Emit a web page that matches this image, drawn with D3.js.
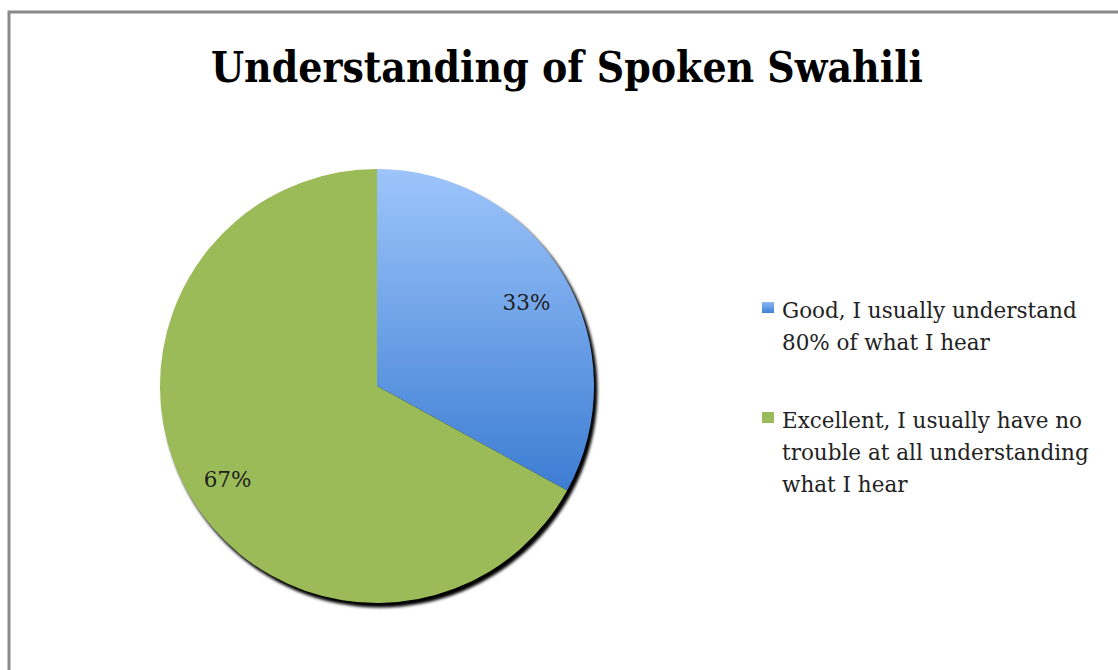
<!DOCTYPE html>
<html><head><meta charset="utf-8">
<script src="https://cdn.jsdelivr.net/npm/d3@7"></script>
<style>
html,body{margin:0;padding:0;background:#fff;}
svg{display:block;}
</style></head>
<body>
<svg id="chart" width="1118" height="670"></svg>
<script>
const title = "Understanding of Spoken Swahili";
const categories = ["Good, I usually understand 80% of what I hear",
  "Excellent, I usually have no trouble at all understanding what I hear"];
const legendLines = [["Good, I usually understand", "80% of what I hear"],
  ["Excellent, I usually have no", "trouble at all understanding", "what I hear"]];
const values = [33, 67];
const labels = ["33%", "67%"];

const svg = d3.select("#chart");
const W = 1118, H = 670;
const cx = 377, cy = 386, R = 217;

const defs = svg.append("defs");
const gBlue = defs.append("linearGradient").attr("id","gBlue")
  .attr("gradientUnits","userSpaceOnUse").attr("x1",0).attr("y1",-R).attr("x2",0).attr("y2",R*0.52);
gBlue.append("stop").attr("offset",0).attr("stop-color","#9dc5fb");
gBlue.append("stop").attr("offset",1).attr("stop-color","#3a7bd2");
const gBlueL = defs.append("linearGradient").attr("id","gBlueL").attr("x1",0).attr("y1",0).attr("x2",0).attr("y2",1);
gBlueL.append("stop").attr("offset",0).attr("stop-color","#8ab8f2");
gBlueL.append("stop").attr("offset",1).attr("stop-color","#3f7fd4");
const sh = defs.append("filter").attr("id","shadow").attr("x","-10%").attr("y","-10%").attr("width","130%").attr("height","130%");
sh.append("feGaussianBlur").attr("stdDeviation",1.4);

// frame
svg.append("rect").attr("x",9).attr("y",12).attr("width",W+20).attr("height",H+20)
  .attr("fill","none").attr("stroke","#8a8a8a").attr("stroke-width",3);

// title
svg.append("text").attr("x",567).attr("y",82).attr("text-anchor","middle")
  .attr("font-family","'DejaVu Serif Condensed','DejaVu Serif',serif").attr("font-weight","bold")
  .attr("font-size",42).attr("fill","#000")
  .attr("textLength",712).attr("lengthAdjust","spacingAndGlyphs")
  .text(title);

const colors = ["url(#gBlue)", "#9bbb59"];
const pie = d3.pie().sort(null).value(d=>d);
const arcs = pie(values);
const arc = d3.arc().innerRadius(0).outerRadius(R);
const g = svg.append("g").attr("transform",`translate(${cx},${cy})`);

// shadow
g.append("circle").attr("cx",3).attr("cy",4).attr("r",R+0.5).attr("fill","#000").attr("filter","url(#shadow)");

g.selectAll("path.slice").data(arcs).join("path").attr("class","slice")
  .attr("d",arc).attr("fill",(d,i)=>colors[i]);

const lab = d3.arc().innerRadius(R*0.8).outerRadius(R*0.8);
g.selectAll("text.lbl").data(arcs).join("text").attr("class","lbl")
  .attr("transform",d=>{const c=lab.centroid(d);return `translate(${c[0]},${c[1]+5})`;})
  .attr("text-anchor","middle").attr("dy","0.36em")
  .attr("font-family","'DejaVu Serif',serif").attr("font-size",21.5)
  .attr("fill","#1e1e1e")
  .text((d,i)=>labels[i]);

// legend
const legColors = ["url(#gBlueL)", "#9bbb59"];
const legY = [318, 428];
const lg = svg.append("g");
legendLines.forEach((lines,i)=>{
  lg.append("rect").attr("x",762).attr("y",legY[i]-16).attr("width",12).attr("height",11).attr("fill",legColors[i]);
  const t = lg.append("text").attr("x",782).attr("y",legY[i])
    .attr("font-family","'DejaVu Serif',serif").attr("font-size",21.5).attr("fill","#222");
  lines.forEach((ln,j)=>{
    t.append("tspan").attr("x",782).attr("y",legY[i]+j*32).text(ln);
  });
});
</script>
</body></html>
